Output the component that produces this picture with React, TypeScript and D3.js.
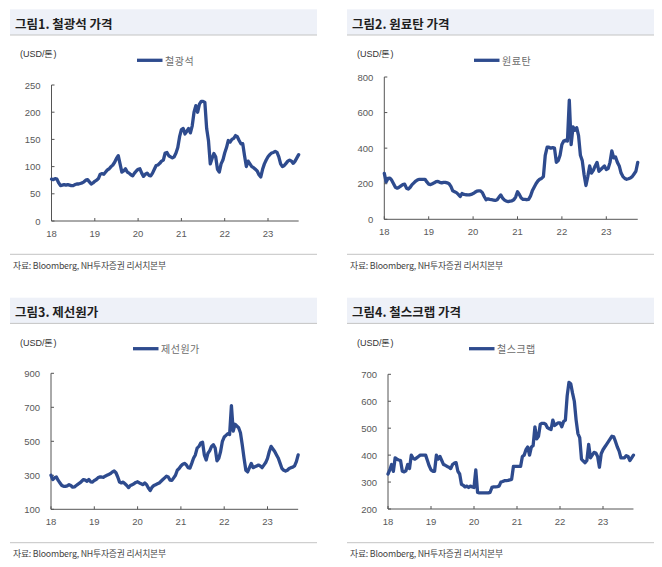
import * as d3 from 'd3';

// semi-monthly readings, Jan 2018 .. Sep 2023
const START_YEAR = 2018;
const STEPS_PER_YEAR = 24;

const yearLabels = ['18', '19', '20', '21', '22', '23'];

const ironOre = [
  77, 76, 78, 77, 70, 65, 66, 67, 66, 67, 66, 65, 65, 67, 68, 68, 69, 70, 72, 75, 76, 72, 68, 70,
  73, 75, 78, 86, 87, 86, 90, 94, 96, 100, 103, 108, 115, 120, 105, 90, 92, 96, 90, 88, 85, 83, 88, 92,
  95, 96, 88, 82, 86, 88, 84, 83, 88, 95, 102, 103, 106, 110, 112, 125, 126, 120, 118, 116, 118, 125, 135, 155,
  168, 170, 160, 165, 170, 162, 175, 200, 212, 200, 215, 220, 220, 218, 170, 148, 105, 115, 124, 118, 95, 90, 105, 112,
  125, 135, 148, 145, 150, 152, 157, 155, 148, 142, 142, 120, 100, 110, 105, 100, 98, 95, 92, 85, 81, 95, 105, 112,
  118, 122, 125, 126, 128, 126, 118, 105, 100, 102, 106, 110, 112, 110, 106, 110, 116, 122,
];

const cokingCoal = [
  258, 210, 230, 232, 220, 200, 180, 175, 180, 188, 195, 198, 175, 170, 180, 195, 205, 215, 222, 225, 225, 224, 225, 210,
  198, 195, 200, 205, 212, 213, 208, 205, 208, 208, 205, 200, 185, 160, 155, 150, 140, 128, 145, 140, 138, 137, 137, 140,
  145, 152, 158, 160, 160, 150, 128, 110, 115, 112, 110, 108, 106, 110, 125, 137, 118, 108, 102, 100, 102, 104, 110, 125,
  155, 140, 120, 112, 112, 110, 112, 130, 160, 180, 200, 215, 225, 230, 240, 360, 405, 405, 400, 403, 400, 320, 330, 360,
  420, 440, 445, 440, 670, 420, 520, 500, 515, 470, 360, 330, 250, 190, 240, 300, 260, 275, 300, 320, 270, 280, 290, 300,
  280, 285, 320, 385, 345, 350, 320, 300, 260, 240, 230, 225, 228, 232, 240, 255, 270, 320,
];

const pigIron = [
  300, 275, 285, 290, 270, 255, 240, 235, 235, 238, 245, 240, 230, 232, 240, 248, 255, 265, 275, 272, 265, 275, 262, 260,
  270, 275, 285, 290, 290, 288, 295, 300, 305, 310, 320, 325, 315, 290, 260, 255, 260, 250, 240, 228, 240, 245, 250, 258,
  262, 255, 250, 245, 255, 245, 225, 210, 230, 240, 245, 250, 255, 265, 275, 285, 295, 290, 272, 270, 285, 300, 330, 340,
  355, 365, 370, 362, 345, 342, 370, 400, 420, 460, 470, 490, 495, 420, 390, 430, 445, 470, 480, 460, 385, 400, 440, 500,
  525, 535, 545, 540, 710, 560, 600, 590, 580, 550, 480, 400, 330, 320, 345, 370, 345, 350, 355, 360, 355, 345, 360, 375,
  400, 440, 470, 455, 440, 420, 400, 370, 340, 330, 325, 330, 340, 345, 348, 355, 380, 420,
];

const scrap = [
  330, 345, 365, 340, 390, 385, 382, 380, 340, 338, 342, 365, 350, 400, 388, 385, 390, 395, 400, 400, 400, 400, 380, 360,
  345, 340, 340, 400, 385, 395, 380, 365, 362, 358, 355, 350, 365, 370, 372, 340, 330, 292, 288, 282, 285, 280, 285, 282,
  280, 345, 262, 260, 260, 260, 260, 260, 260, 262, 280, 282, 282, 283, 285, 300, 302, 305, 305, 306, 308, 310, 358, 358,
  358, 358, 358, 395, 400, 420, 430, 400, 430, 435, 505, 460, 470, 515, 518, 518, 515, 502, 498, 495, 530, 510, 515, 520,
  520, 505, 525, 530, 620, 670, 665, 630, 600, 530, 480, 465, 385, 378, 372, 380, 440, 390, 400, 410, 408, 395, 355, 405,
  420, 430, 440, 450, 460, 470, 468, 450, 430, 415, 390, 390, 390, 398, 395, 380, 390, 400,
];

const ticksIron = [0, 50, 100, 150, 200, 250];
const ticksCoal = [0, 200, 400, 600, 800];
const ticksPig = [100, 300, 500, 700, 900];
const ticksScrap = [200, 300, 400, 500, 600, 700];

const LINE = '#2e4b8e';
const KR = '"Noto Sans CJK KR", "Noto Sans", sans-serif';
const NUM = '"Liberation Sans", Arial, sans-serif';

type PanelProps = {
  title: string;
  legend: string;
  values: number[];
  ticks: number[];
  left: number; // panel box left
  top: number; // panel box top
  width: number;
  x0: number;
  yearPx: number;
  yTop: number;
  yBot: number;
  legendX: number;
};

function Panel(p: PanelProps) {
  const n = p.values.length;
  const endT = START_YEAR + (n - 1) / STEPS_PER_YEAR;
  const x = d3
    .scaleLinear()
    .domain([START_YEAR, endT])
    .range([p.x0, p.x0 + (endT - START_YEAR) * p.yearPx]);
  const y = d3
    .scaleLinear()
    .domain([p.ticks[0], p.ticks[p.ticks.length - 1]])
    .range([p.yBot, p.yTop]);
  const line = d3
    .line<number>()
    .x((_, i) => x(START_YEAR + i / STEPS_PER_YEAR))
    .y((d) => y(d));
  const xEnd = x(endT);
  const right = p.left + p.width;

  return (
    <g>
      <rect x={p.left} y={p.top} width={p.width} height={25.7} fill="#eef1f8" />
      <line x1={p.left} x2={right} y1={p.top + 25.7} y2={p.top + 25.7} stroke="#c4c4c4" strokeWidth={1} />
      <text
        x={p.left + 5}
        y={p.top + 14}
        fontFamily={KR}
        fontSize={12.5}
        fontWeight="bold"
        fill="#1e1e1e"
        dominantBaseline="central"
      >
        {p.title}
      </text>

      <text x={p.left + 10} y={p.top + 45} fontFamily={NUM} fontSize={9} fill="#333" dominantBaseline="central">
        (USD/톤)
      </text>

      <line x1={p.legendX} x2={p.legendX + 25.5} y1={p.top + 51} y2={p.top + 51} stroke={LINE} strokeWidth={3.3} />
      <text
        x={p.legendX + 28}
        y={p.top + 51}
        fontFamily={KR}
        fontSize={10}
        fill="#6b6b6b"
        dominantBaseline="central"
        letterSpacing={0.5}
      >
        {p.legend}
      </text>

      {p.ticks.map((t) => (
        <g key={t}>
          <line x1={p.x0} x2={p.x0 + 3} y1={y(t)} y2={y(t)} stroke="#555" />
          <text
            x={p.x0 - 11}
            y={y(t)}
            textAnchor="end"
            dominantBaseline="central"
            fontFamily={NUM}
            fontSize={9.5}
            fill="#595959"
          >
            {t}
          </text>
        </g>
      ))}

      {yearLabels.map((lab, i) => {
        const xx = x(START_YEAR + i);
        return (
          <g key={lab}>
            <line x1={xx} x2={xx} y1={p.yBot} y2={p.yBot - 3} stroke="#555" />
            <text
              x={xx}
              y={p.yBot + 12}
              textAnchor="middle"
              dominantBaseline="central"
              fontFamily={NUM}
              fontSize={9.5}
              fill="#595959"
            >
              {lab}
            </text>
          </g>
        );
      })}

      <line x1={p.x0} x2={p.x0} y1={p.yTop} y2={p.yBot} stroke="#555" />
      <line x1={p.x0} x2={xEnd} y1={p.yBot} y2={p.yBot} stroke="#555" />

      <path
        d={line(p.values) ?? ''}
        fill="none"
        stroke={LINE}
        strokeWidth={3.3}
        strokeLinejoin="round"
        strokeLinecap="round"
      />

      <line x1={p.left} x2={right} y1={p.top + 245} y2={p.top + 245} stroke="#c4c4c4" strokeWidth={1} />
      <text
        x={p.left + 3}
        y={p.top + 256}
        fontFamily={KR}
        fontSize={8.8}
        fill="#444"
        dominantBaseline="central"
        letterSpacing={-0.2}
      >
        자료: Bloomberg, NH투자증권 리서치본부
      </text>
    </g>
  );
}

export default function App() {
  return (
    <div style={{ position: 'absolute', left: 0, top: 0 }}>
      <svg width={662} height={567} style={{ display: 'block', background: '#fff' }}>
        <Panel
          title="그림1. 철광석 가격"
          legend="철광석"
          values={ironOre}
          ticks={ticksIron}
          left={10}
          top={9.3}
          width={307}
          x0={51.5}
          yearPx={43.3}
          yTop={85}
          yBot={221}
          legendX={137}
        />
        <Panel
          title="그림2. 원료탄 가격"
          legend="원료탄"
          values={cokingCoal}
          ticks={ticksCoal}
          left={347}
          top={9.3}
          width={307}
          x0={384.3}
          yearPx={44.4}
          yTop={77}
          yBot={219.3}
          legendX={474}
        />
        <Panel
          title="그림3. 제선원가"
          legend="제선원가"
          values={pigIron}
          ticks={ticksPig}
          left={10}
          top={297.7}
          width={307}
          x0={51}
          yearPx={43.3}
          yTop={373.3}
          yBot={509.3}
          legendX={133}
        />
        <Panel
          title="그림4. 철스크랩 가격"
          legend="철스크랩"
          values={scrap}
          ticks={ticksScrap}
          left={347}
          top={297.7}
          width={307}
          x0={388}
          yearPx={43}
          yTop={374.3}
          yBot={509}
          legendX={469}
        />
      </svg>
    </div>
  );
}
